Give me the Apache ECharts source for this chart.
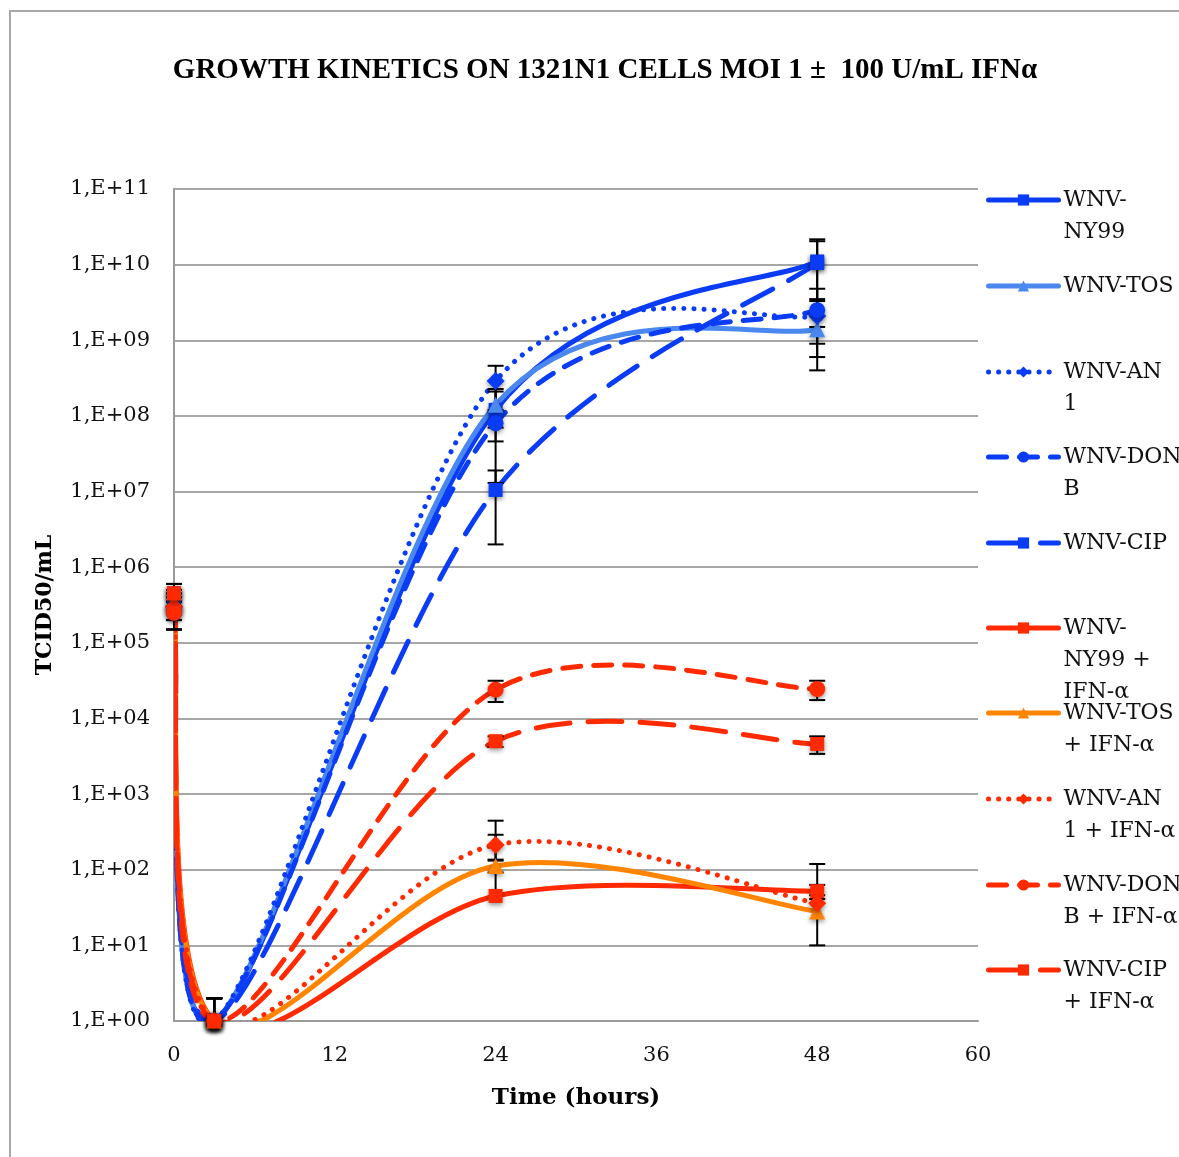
<!DOCTYPE html>
<html>
<head>
<meta charset="utf-8">
<title>Growth kinetics</title>
<script src="https://cdn.jsdelivr.net/npm/echarts@6/dist/echarts.min.js"></script>
<style>
  html, body { margin: 0; padding: 0; background: #fff; }
  #chart { width: 1179px; height: 1157px; }
</style>
</head>
<body>
<div id="chart"></div>
<script>
// time points (hours)
const hours = [0, 3, 24, 48];

// TCID50/mL values, with their error (+/-)
const ny99 = [4.5e5, 1, 1.2e8, 1.1e10];
const ny99Err = [1.5e5, 1, 1.07e8, 1.06e10];
const tos = [3.5e5, 1, 1.4e8, 1.4e9];
const tosErr = [1.5e5, 1, 0.7e8, 3.4e9];
const an1 = [3e5, 1, 2.9e8, 2.1e9];
const an1Err = [1.5e5, 1, 1.7e8, 1.2e9];
const donb = [2.5e5, 1, 8e7, 2.5e9];
const donbErr = [1e5, 1, 3.4e7, 1e9];
const cip = [4e5, 1, 1.05e7, 1.05e10];
const cipErr = [2e5, 1, 8.5e6, 9.9e9];

const ny99Ifn = [4.5e5, 1, 45, 52];
const ny99IfnErr = [1.5e5, 1, 400, 11];
const tosIfn = [3.5e5, 1, 112, 28];
const tosIfnErr = [1e5, 1, 20, 18];
const an1Ifn = [3e5, 1, 213, 36];
const an1IfnErr = [1e5, 1, 77, 83];
const donbIfn = [2.5e5, 1, 2.4e4, 2.45e4];
const donbIfnErr = [1e5, 1, 7.5e3, 7e3];
const cipIfn = [4.5e5, 1, 5e3, 4.6e3];
const cipIfnErr = [1.5e5, 1, 8e2, 1.2e3];

const xTicks = [0, 12, 24, 36, 48, 60];

const blue = '#0a3cf5';
const lightBlue = '#4a88f0';
const red = '#ff2a00';
const orange = '#ff8400';

// name, values, errors, colour, dash, symbol, legend label
const defs = [
  ['WNV-NY99', ny99, ny99Err, blue, 'solid', 'rect', 'WNV-\nNY99'],
  ['WNV-TOS', tos, tosErr, lightBlue, 'solid', 'triangle', 'WNV-TOS'],
  ['WNV-AN 1', an1, an1Err, blue, [0.1, 10], 'diamond', 'WNV-AN\n1'],
  ['WNV-DON B', donb, donbErr, blue, [18, 13], 'circle', 'WNV-DON\nB'],
  ['WNV-CIP', cip, cipErr, blue, [34, 18], 'rect', 'WNV-CIP'],
  ['WNV-NY99 + IFN-α', ny99Ifn, ny99IfnErr, red, 'solid', 'rect', 'WNV-\nNY99 +\nIFN-α'],
  ['WNV-TOS + IFN-α', tosIfn, tosIfnErr, orange, 'solid', 'triangle', 'WNV-TOS\n+ IFN-α'],
  ['WNV-AN 1 + IFN-α', an1Ifn, an1IfnErr, red, [0.1, 10], 'diamond', 'WNV-AN\n1 + IFN-α'],
  ['WNV-DON B + IFN-α', donbIfn, donbIfnErr, red, [18, 13], 'circle', 'WNV-DON\nB + IFN-α'],
  ['WNV-CIP + IFN-α', cipIfn, cipIfnErr, red, [34, 18], 'rect', 'WNV-CIP\n+ IFN-α']
];

const symbolSizes = { rect: 14, triangle: 16, diamond: 18, circle: 16 };

const legendCenters = [200, 286, 372, 457, 543, 628, 713, 799, 885, 970];
const lh = 32;

// Excel-like smoothed curve (Catmull-Rom style control points) through the coords
function curvePath(pts) {
  let d = 'M' + pts[0][0] + ' ' + pts[0][1];
  for (let i = 0; i < pts.length - 1; i++) {
    const p0 = pts[i - 1] || pts[i];
    const p1 = pts[i];
    const p2 = pts[i + 1];
    const p3 = pts[i + 2] || pts[i + 1];
    const c1x = p1[0] + (p2[0] - p0[0]) / 6;
    const c1y = p1[1] + (p2[1] - p0[1]) / 6;
    const c2x = p2[0] - (p3[0] - p1[0]) / 6;
    const c2y = p2[1] - (p3[1] - p1[1]) / 6;
    d += ' C' + c1x + ' ' + c1y + ' ' + c2x + ' ' + c2y + ' ' + p2[0] + ' ' + p2[1];
  }
  return d;
}

const series = [];
const legends = [];
const errData = [];

defs.forEach(function (d, i) {
  const vals = d[1];
  // markers (and legend icon) - first so the legend takes its icon from it
  series.push({
    name: d[0],
    type: 'line',
    data: hours.map(function (h, k) { return [h, vals[k]]; }),
    symbol: d[5],
    symbolSize: symbolSizes[d[5]],
    lineStyle: { color: d[3], width: 5, type: d[4], opacity: 0 },
    itemStyle: {
      color: d[3],
      shadowColor: 'rgba(0,0,0,0.45)',
      shadowBlur: 5,
      shadowOffsetY: 2
    },
    z: 4
  });
  // smoothed curve
  series.push({
    name: d[0],
    type: 'custom',
    clip: true,
    z: 2,
    data: hours.map(function (h, k) { return [h, vals[k]]; }),
    renderItem: function (params, api) {
      if (params.dataIndex !== 0) {
        return null;
      }
      const pts = hours.map(function (h, k) { return api.coord([h, vals[k]]); });
      return {
        type: 'path',
        shape: { pathData: curvePath(pts) },
        style: {
          fill: 'none',
          stroke: d[3],
          lineWidth: 5,
          lineDash: d[4] === 'solid' ? null : d[4],
          lineCap: 'round'
        }
      };
    }
  });
  hours.forEach(function (h, k) {
    errData.push([h, vals[k], d[2][k]]);
  });
  const n = d[6].split('\n').length;
  const boxH = (2 * n - 1) * lh;
  let pad = '';
  for (let j = 1; j < n; j++) {
    pad += '\n';
  }
  legends.push({
    data: [d[0]],
    left: 986,
    top: legendCenters[i] - boxH / 2,
    padding: 0,
    itemWidth: 70,
    itemHeight: 14,
    formatter: function () { return pad + d[6]; },
    lineStyle: {
      color: d[3],
      width: 5,
      type: d[4],
      cap: 'round',
      opacity: 1
    },
    itemStyle: { shadowBlur: 0, shadowOffsetY: 0 },
    textStyle: {
      fontFamily: 'DejaVu Serif',
      fontSize: 22,
      lineHeight: lh,
      color: '#111'
    }
  });
});

series.push({
  type: 'custom',
  name: 'err',
  z: 3,
  data: errData,
  renderItem: function (params, api) {
    const x = api.value(0);
    const v = api.value(1);
    const e = api.value(2);
    const top = api.coord([x, v + e]);
    const lo = v - e > 0 ? api.coord([x, v - e]) : api.coord([x, v]);
    const cw = 8;
    const style = { stroke: '#000', lineWidth: 2 };
    const kids = [
      { type: 'line', shape: { x1: top[0], y1: top[1], x2: lo[0], y2: lo[1] }, style: style },
      { type: 'line', shape: { x1: top[0] - cw, y1: top[1], x2: top[0] + cw, y2: top[1] }, style: style }
    ];
    if (v - e > 0) {
      kids.push({ type: 'line', shape: { x1: lo[0] - cw, y1: lo[1], x2: lo[0] + cw, y2: lo[1] }, style: style });
    }
    return { type: 'group', children: kids };
  }
});

const chart = echarts.init(document.getElementById('chart'));
chart.setOption({
  animation: false,
  backgroundColor: '#fff',
  graphic: [{
    type: 'rect',
    shape: { x: 10, y: 11, width: 1200, height: 1200 },
    style: { fill: 'none', stroke: '#a8a8a8', lineWidth: 2 },
    silent: true
  }],
  title: {
    text: 'GROWTH KINETICS ON 1321N1 CELLS MOI 1 ±  100 U/mL IFNα',
    left: 600,
    textAlign: 'center',
    top: 51,
    textStyle: {
      fontFamily: 'Liberation Serif',
      fontWeight: 'bold',
      fontSize: 29,
      color: '#000'
    }
  },
  legend: legends,
  grid: {
    left: 174,
    right: 201,
    top: 189,
    bottom: 136
  },
  xAxis: {
    type: 'value',
    min: xTicks[0],
    max: xTicks[xTicks.length - 1],
    interval: 12,
    name: 'Time (hours)',
    nameLocation: 'middle',
    nameGap: 66,
    nameTextStyle: {
      fontFamily: 'DejaVu Serif',
      fontWeight: 'bold',
      fontSize: 23,
      color: '#000'
    },
    axisLine: { lineStyle: { color: '#999', width: 2 } },
    axisTick: { show: false },
    splitLine: { show: false },
    axisLabel: {
      margin: 24,
      fontFamily: 'DejaVu Serif',
      fontSize: 21,
      color: '#111'
    }
  },
  yAxis: {
    type: 'log',
    logBase: 10,
    min: 1,
    max: 1e11,
    interval: 1,
    name: 'TCID50/mL',
    nameLocation: 'middle',
    nameRotate: 90,
    nameGap: 118,
    nameTextStyle: {
      fontFamily: 'DejaVu Serif',
      fontWeight: 'bold',
      fontSize: 22,
      color: '#000'
    },
    axisLine: { show: true, lineStyle: { color: '#999', width: 2 } },
    axisTick: { show: false },
    splitLine: { show: true, lineStyle: { color: '#a6a6a6', width: 2 } },
    axisLabel: {
      margin: 24,
      fontFamily: 'DejaVu Serif',
      fontSize: 21,
      color: '#111',
      formatter: function (val) {
        const e = Math.round(Math.log10(val));
        return '1,E+' + (e < 10 ? '0' + e : e);
      }
    }
  },
  series: series
});
</script>
</body>
</html>
